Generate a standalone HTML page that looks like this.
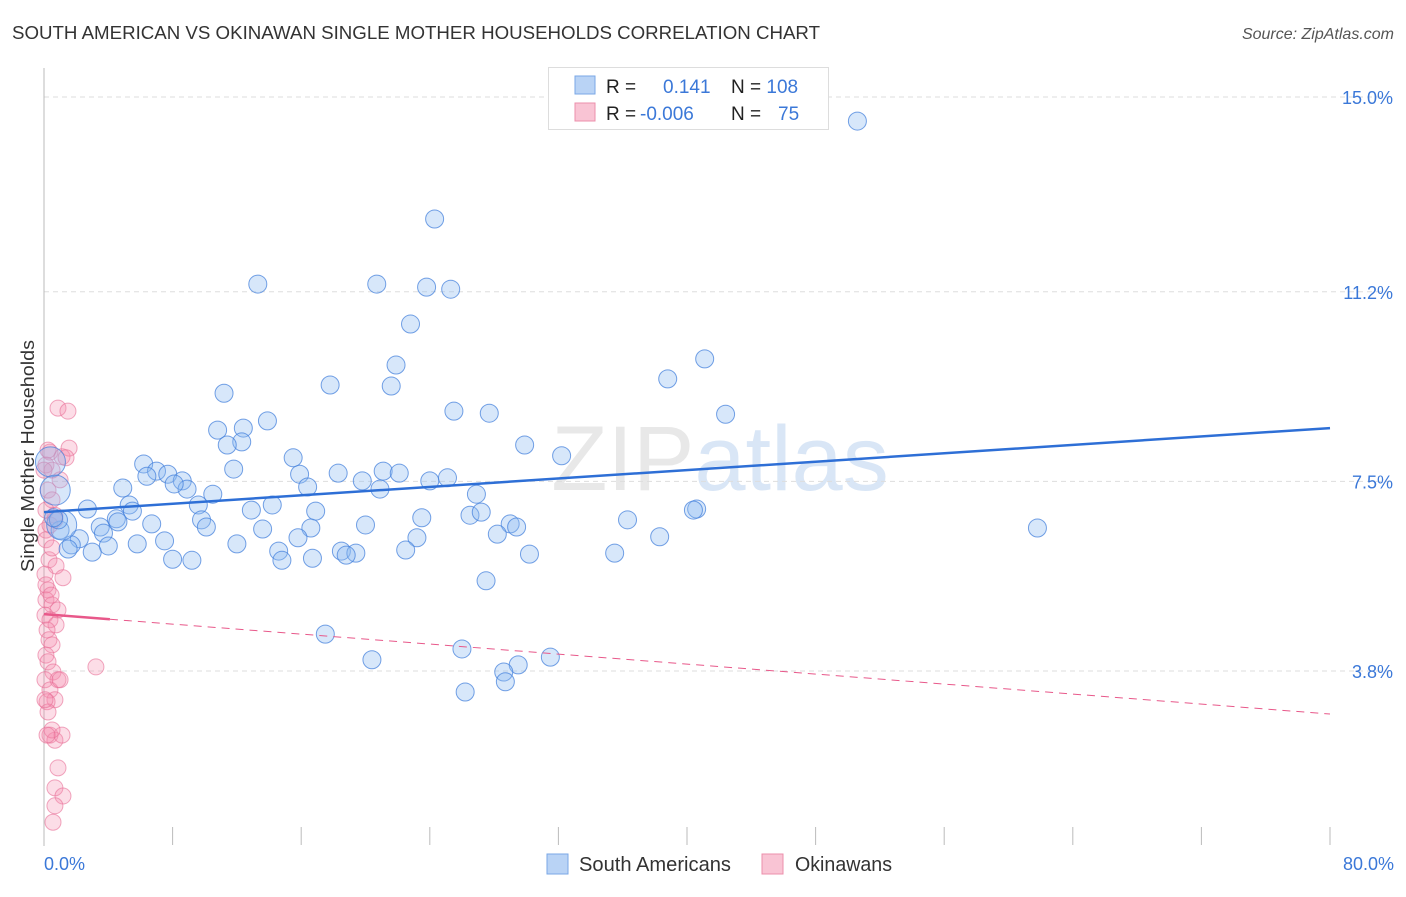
<!DOCTYPE html>
<html><head><meta charset="utf-8">
<style>
body{margin:0;background:#fff;font-family:"Liberation Sans",sans-serif;}
svg text{font-family:"Liberation Sans",sans-serif;}
</style></head>
<body>
<svg width="1406" height="892" id="chart">
<text x="12" y="39" font-size="18" fill="#333" textLength="808" lengthAdjust="spacingAndGlyphs">SOUTH AMERICAN VS OKINAWAN SINGLE MOTHER HOUSEHOLDS CORRELATION CHART</text>
<text x="1394" y="39" font-size="16" fill="#555" font-style="italic" text-anchor="end">Source: ZipAtlas.com</text>
<text x="0" y="0" transform="translate(34,456) rotate(-90)" font-size="18" fill="#333" text-anchor="middle" textLength="232" lengthAdjust="spacingAndGlyphs">Single Mother Households</text>
<text x="720" y="490" font-size="92" fill="#e8e8e8" text-anchor="middle" font-family="Liberation Serif">ZIP<tspan fill="#d9e6f6" font-family="Liberation Sans">atlas</tspan></text>
<g id="grid"></g>
<g id="pts"></g>
<g id="lines"></g>
<g>
<rect x="548.5" y="67.5" width="280" height="62" fill="#fff" stroke="#ddd"/>
<rect x="575" y="76" width="20" height="18" fill="#b9d3f5" stroke="#7aa7e6"/>
<rect x="575" y="103" width="20" height="18" fill="#f9c4d4" stroke="#ec8fab"/>
<text x="606" y="93" font-size="19" fill="#222">R = <tspan x="663" fill="#3b78d8">0.141</tspan><tspan x="731" fill="#222">N = </tspan><tspan fill="#3b78d8">108</tspan></text>
<text x="606" y="120" font-size="19" fill="#222">R = <tspan x="640" fill="#3b78d8">-0.006</tspan><tspan x="731" fill="#222">N = </tspan><tspan x="778" fill="#3b78d8">75</tspan></text>
</g>
<g>
<rect x="547" y="854" width="21" height="20" fill="#b9d3f5" stroke="#7aa7e6"/>
<text x="579" y="871" font-size="20" fill="#333" textLength="152" lengthAdjust="spacingAndGlyphs">South Americans</text>
<rect x="762" y="854" width="21" height="20" fill="#f9c4d4" stroke="#ec8fab"/>
<text x="795" y="871" font-size="20" fill="#333" textLength="97" lengthAdjust="spacingAndGlyphs">Okinawans</text>
</g>
</svg>
<script>
const yTicks=[15.0,11.2,7.5,3.8];
const yTickLabels=["15.0%","11.2%","7.5%","3.8%"];
const xTickCount=10;
const xLabels=["0.0%","80.0%"];
const blueX=[50.6,24.3,13.3,20.7,23.8,25.3,22.8,41.1,21.9,38.8,17.8,21.6,11.2,25.5,27.7,42.4,13.9,10.8,12.4,12.3,11.4,29.9,32.2,15.5,6.2,11.8,7.0,7.7,8.6,15.9,18.3,21.1,22.1,6.4,8.9,8.1,4.9,10.5,16.4,19.8,20.9,24.0,25.1,26.9,9.6,5.3,2.7,5.5,12.9,14.2,16.9,26.5,27.2,40.6,40.4,23.5,4.5,9.8,4.6,6.7,36.3,20.0,10.1,13.6,16.6,29.0,29.4,28.2,61.8,3.5,3.7,1.0,2.2,15.8,23.2,38.3,7.5,5.8,12.0,1.7,4.0,1.5,3.0,14.6,22.5,18.5,16.7,19.4,18.8,30.2,35.5,14.8,8.0,9.2,27.5,17.5,20.4,26.0,31.5,29.5,28.6,28.7,26.2,0.4,0.7,1.1,0.9,0.6];
const blueY=[14.53,12.62,11.35,11.35,11.29,11.25,10.57,9.89,9.77,9.50,9.38,9.36,9.22,8.87,8.83,8.81,8.68,8.50,8.54,8.27,8.21,8.21,8.00,7.96,7.84,7.74,7.70,7.64,7.51,7.64,7.66,7.70,7.66,7.60,7.35,7.45,7.37,7.25,7.39,7.51,7.35,7.51,7.57,7.25,7.04,7.04,6.96,6.92,6.94,7.04,6.92,6.84,6.90,6.96,6.94,6.79,6.77,6.75,6.71,6.67,6.75,6.65,6.61,6.57,6.59,6.67,6.61,6.47,6.59,6.61,6.49,6.55,6.38,6.40,6.40,6.42,6.34,6.28,6.28,6.26,6.24,6.18,6.12,6.14,6.16,6.14,6.00,6.10,6.06,6.08,6.10,5.96,5.98,5.96,5.56,4.52,4.02,4.23,4.07,3.92,3.78,3.59,3.39,7.88,7.33,6.65,6.75,6.79];
const blueBig=[0,0,0,0,0,0,0,0,0,0,0,0,0,0,0,0,0,0,0,0,0,0,0,0,0,0,0,0,0,0,0,0,0,0,0,0,0,0,0,0,0,0,0,0,0,0,0,0,0,0,0,0,0,0,0,0,0,0,0,0,0,0,0,0,0,0,0,0,0,0,0,0,0,0,0,0,0,0,0,0,0,0,0,0,0,0,0,0,0,0,0,0,0,0,0,0,0,0,0,0,0,0,0,1,1,1,0,0];
const pinkX=[0.87,1.49,0.37,1.12,1.56,1.37,0.12,0.5,1.0,0.25,0.5,0.12,0.68,0.12,0.37,0.31,0.75,0.06,1.18,0.25,0.12,0.5,0.87,0.06,0.37,0.75,0.19,0.31,0.5,0.12,3.23,0.25,0.56,0.06,0.87,0.37,0.68,0.19,0.25,0.37,0.68,1.12,0.87,0.68,1.18,0.68,0.56,0.12,0.12,0.44,1.0,0.06,0.5,0.19,0.5,0.0,0.68,0.25];
const pinkY=[8.93,8.87,8.07,7.98,8.15,7.96,7.82,7.72,7.53,7.33,7.14,6.94,6.84,6.55,6.65,5.97,5.85,5.69,5.62,5.38,5.19,5.09,4.99,4.89,4.80,4.70,4.60,4.41,4.31,4.11,3.88,3.98,3.78,3.63,3.63,3.43,3.24,3.20,3.00,2.55,2.45,2.55,1.91,1.52,1.36,1.17,0.85,6.36,5.48,5.28,3.63,3.24,2.65,2.55,6.20,7.72,6.75,8.11];
const blueTrend=[6.90,8.54];
const pinkTrend=[4.91,2.96];
const pinkSolidEnd=4.1;

const X0=44,X1=1330;
function xs(v){return X0+(v/80)*(X1-X0);}
function ys(v){return 97+(15-v)*51.25;}
const NS="http://www.w3.org/2000/svg";
function mk(t,a,p){const e=document.createElementNS(NS,t);for(const k in a)e.setAttribute(k,a[k]);p.appendChild(e);return e;}
const grid=document.getElementById('grid');
yTicks.forEach((t,i)=>{
  const l=mk('line',{x1:X0,x2:1394,y1:ys(t),y2:ys(t),stroke:'#ddd','stroke-dasharray':'5,4'},grid);
  
  
  const tx=mk('text',{x:1393,y:ys(t)+7,'font-size':18,fill:'#3b78d8','text-anchor':'end'},grid);
  tx.textContent=yTickLabels[i];
  
  
});
const ax=mk('line',{x1:X0,x2:X0,y1:68,y2:846,stroke:'#bbb'},grid);


for(let i=0;i<=xTickCount;i++){
  const v=i*80/xTickCount;
  const t=mk('line',{x1:xs(v),x2:xs(v),y1:827,y2:845,stroke:'#bbb'},grid);
  
  
}
const xl0=mk('text',{x:44,y:870,'font-size':18,fill:'#3b78d8'},grid);xl0.textContent=xLabels[0];


const xl1=mk('text',{x:1394,y:870,'font-size':18,fill:'#3b78d8','text-anchor':'end'},grid);xl1.textContent=xLabels[1];



const pts=document.getElementById('pts');
pinkX.forEach((v,i)=>{
  const c=mk('circle',{cx:xs(v),cy:ys(pinkY[i]),r:8,fill:'rgba(244,143,177,0.3)',stroke:'rgba(232,110,150,0.6)','stroke-width':1},pts);
  
  
});
blueX.forEach((v,i)=>{
  const c=mk('circle',{cx:xs(v),cy:ys(blueY[i]),r:blueBig[i]?15:9,fill:'rgba(140,185,240,0.35)',stroke:'rgba(70,130,220,0.75)','stroke-width':1},pts);
  
  
});
const lines=document.getElementById('lines');
const bl=mk('line',{x1:xs(0),y1:ys(blueTrend[0]),x2:xs(80),y2:ys(blueTrend[1]),stroke:'#2e6fd6','stroke-width':2.5},lines);


const pyAt=v=>pinkTrend[0]+(pinkTrend[1]-pinkTrend[0])*v/80;
const ps=mk('line',{x1:xs(0),y1:ys(pinkTrend[0]),x2:xs(pinkSolidEnd),y2:ys(pyAt(pinkSolidEnd)),stroke:'#e8588a','stroke-width':2.5},lines);


const pd=mk('line',{x1:xs(pinkSolidEnd),y1:ys(pyAt(pinkSolidEnd)),x2:xs(80),y2:ys(pinkTrend[1]),stroke:'#e8588a','stroke-width':1,'stroke-dasharray':'8,6'},lines);


</script>
</body></html>
